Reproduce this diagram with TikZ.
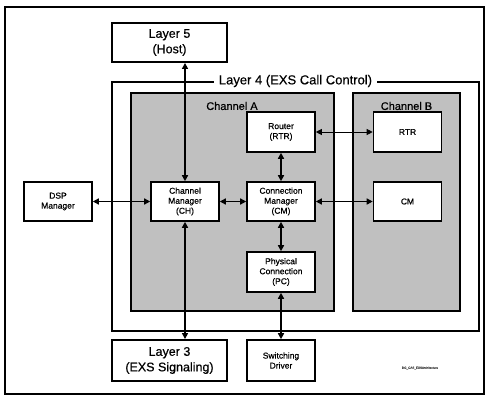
\documentclass[tikz,border=0pt]{standalone}
\usepackage{fontspec}
\setmainfont{Liberation Sans}[FakeBold=0.5]
\usetikzlibrary{arrows.meta}

\definecolor{chgray}{RGB}{192,192,192}
\tikzset{every picture/.style={line width=1.5pt}}
\tikzset{
  modbox/.style={draw, fill=white, line width=1.6pt, minimum width=68pt, minimum height=39pt, inner sep=0pt, align=center, font=\fontsize{8.5}{10}\selectfont},
  layerbox/.style={draw, fill=white, line width=1.9pt, minimum width=115pt, minimum height=40pt, inner sep=0pt, align=center, font=\fontsize{12.5}{15.5}\selectfont},
  chanbox/.style={draw, fill=chgray, line width=1.9pt, inner sep=0pt},
  biarrow/.style={{Triangle[length=6pt,width=6pt]}-{Triangle[length=6pt,width=6pt]}, line width=1.8pt},
}

\begin{document}
\begin{tikzpicture}[x=1pt,y=1pt,yscale=-1,xscale=1]
\useasboundingbox (0,0) rectangle (495,404);

%Shape: Rectangle (outer frame)
\draw [line width=1.9pt] (5,7) rectangle (484,394);

%Shape: Rectangle (Layer 4)
\node [draw, line width=1.9pt, minimum width=367pt, minimum height=249pt, inner sep=0pt] (L4) at (295.5,206.5) {};
% Text Node
\node [fill=white, inner xsep=5pt, inner ysep=1pt, font=\fontsize{13}{15}\selectfont] (L4title) at (295.5,81) {Layer 4 (EXS Call Control)};

%Shape: Rectangle (Channel A)
\node [chanbox, minimum width=203pt, minimum height=218pt] (chA) at (232.5,202) {};
% Text Node
\node [font=\fontsize{11}{13}\selectfont] (chAtitle) at (232,106) {Channel A};

%Shape: Rectangle (Channel B)
\node [chanbox, minimum width=107pt, minimum height=218pt] (chB) at (406.5,202) {};
% Text Node
\node [font=\fontsize{11}{13}\selectfont] (chBtitle) at (406.5,106) {Channel B};

%Layer boxes
\node [layerbox, minimum height=39pt] (L5) at (169.5,42.5) {Layer 5\\(Host)};
\node [layerbox, minimum height=41pt] (L3) at (169.5,360.5) {Layer 3\\(EXS Signaling)};

%Module boxes
\node [modbox] (DSP) at (58,201.5) {DSP\\Manager};
\node [modbox] (CH) at (185,201.5) {Channel\\Manager\\(CH)};
\node [modbox] (ConnM) at (281,201.5) {Connection\\Manager\\(CM)};
\node [modbox, minimum height=40pt] (Router) at (281,132) {Router\\(RTR)};
\node [modbox, minimum height=40pt] (PC) at (281,272) {Physical\\Connection\\(PC)};
\node [modbox, minimum height=41pt] (SwD) at (281,360.5) {Switching\\Driver};
\node [modbox, minimum height=40pt] (RTR) at (407.5,132) {RTR};
\node [modbox] (CM) at (407.5,201.5) {CM};

%Straight Lines
\draw [biarrow] (CH.north) -- (CH.north |- L5.south);
\draw [biarrow] (CH.south) -- (CH.south |- L3.north);
\draw [biarrow] (DSP.east) -- (CH.west);
\draw [biarrow] (CH.east) -- (ConnM.west);
\draw [biarrow] (ConnM.east) -- (CM.west);
\draw [biarrow] (Router.south) -- (ConnM.north);
\draw [biarrow] (ConnM.south) -- (PC.north);
\draw [biarrow] (PC.south) -- (SwD.north);
\draw [biarrow, line width=0.8pt] (Router.east) -- (RTR.west);

% Text Node
\node [font=\fontsize{3}{3.5}\selectfont, text=black!70] (figid) at (420,368) {DG\_CAS\_EXSArchitecture};

\end{tikzpicture}
\end{document}
